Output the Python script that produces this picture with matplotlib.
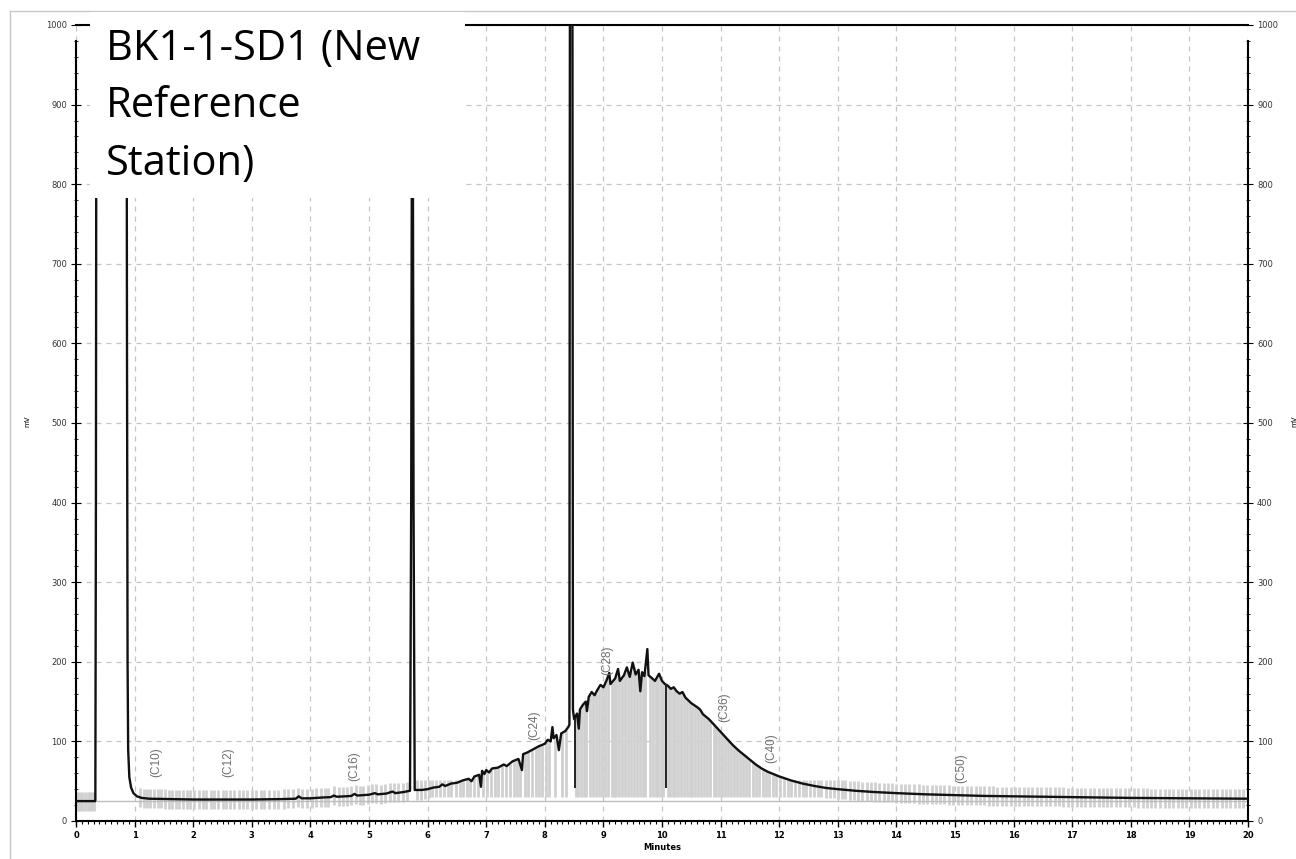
import matplotlib
matplotlib.use('Agg')
import matplotlib.pyplot as plt
from matplotlib.patches import Rectangle
from matplotlib.lines import Line2D
from matplotlib.ticker import MultipleLocator
import numpy as np

# chromatogram trace (minutes, mV); off-scale peaks set above 1000
trace_t = [0.00, 0.33, 0.34, 0.35, 0.86, 0.87, 0.88, 0.89, 0.91, 0.94, 0.98, 1.04, 1.12, 1.25,
           1.6, 2.0, 2.5, 3.0, 3.5, 3.75, 3.8, 3.85, 4.0, 4.2, 4.35, 4.4, 4.45, 4.6, 4.7, 4.75,
           4.8, 5.0, 5.1, 5.15, 5.3, 5.4, 5.45, 5.6, 5.7, 5.72, 5.74, 5.76, 5.78, 5.9, 6.0, 6.1,
           6.2, 6.25, 6.3, 6.4, 6.5, 6.6, 6.7, 6.75, 6.8, 6.88, 6.91, 6.93, 6.97, 7.0, 7.05, 7.1,
           7.2, 7.3, 7.35, 7.45, 7.55, 7.61, 7.63, 7.7, 7.8, 7.9, 8.0, 8.05, 8.1, 8.13, 8.15,
           8.2, 8.24, 8.28, 8.35, 8.4, 8.42, 8.43, 8.47, 8.48, 8.5, 8.55, 8.58, 8.6, 8.65, 8.7,
           8.72, 8.75, 8.8, 8.85, 8.9, 8.95, 9.0, 9.05, 9.1, 9.12, 9.2, 9.25, 9.28, 9.35, 9.4,
           9.45, 9.5, 9.55, 9.6, 9.63, 9.66, 9.7, 9.75, 9.77, 9.82, 9.88, 9.95, 10.0, 10.05,
           10.1, 10.15, 10.2, 10.25, 10.3, 10.35, 10.4, 10.5, 10.6, 10.65, 10.7, 10.8, 10.9,
           11.0, 11.1, 11.2, 11.3, 11.4, 11.5, 11.6, 11.7, 11.8, 11.9, 12.0, 12.2, 12.4, 12.6,
           12.8, 13.0, 13.3, 13.6, 14.0, 14.5, 15.0, 15.5, 16.0, 17.0, 18.0, 19.0, 20.0]
trace_mv = [25, 25, 400, 1200, 1200, 600, 200, 90, 55, 42, 35, 31, 29, 28,
            27.5, 27, 27, 27, 27.5, 28, 31, 28.5, 28.5, 29.5, 30, 32, 30.5, 31, 31.5, 34,
            32, 33, 35, 33.5, 34.5, 37, 35, 36.5, 38, 400, 1200, 400, 39, 39, 40, 42,
            43, 46, 44, 47, 48, 51, 53, 50, 56, 58, 43, 63, 59, 64, 61, 66,
            67, 71, 69, 75, 78, 64, 84, 86, 90, 94, 97, 102, 100, 118, 104,
            108, 89, 110, 113, 118, 121, 1200, 1200, 140, 128, 135, 116, 140, 146, 150,
            138, 156, 162, 158, 165, 171, 168, 176, 186, 172, 179, 191, 176, 183, 193,
            181, 199, 184, 190, 163, 187, 182, 216, 183, 180, 176, 185, 176, 172,
            170, 166, 168, 163, 160, 162, 155, 148, 143, 140, 134, 128, 120,
            112, 104, 96, 89, 83, 77, 71, 66, 62, 59, 56, 51, 47, 44,
            41.5, 40, 38, 36.5, 35, 33.5, 32.5, 31.5, 31, 30, 29, 28.5, 28]

# integration drop lines (minutes, lower end in mV)
drop_t = [8.51, 10.06]
drop_bottom = [41, 41]

# integration slices (grey bars), minutes
gray_t = [0.03, 0.07, 0.11, 0.16, 0.2, 0.24, 0.28, 0.31,
          1.1, 1.16, 1.22, 1.27, 1.33, 1.4, 1.45, 1.52, 1.58, 1.63, 1.7, 1.76, 1.83, 1.9, 1.95,
          2.02, 2.1, 2.16, 2.22, 2.3, 2.35, 2.42, 2.5, 2.56, 2.63, 2.7, 2.78, 2.85, 2.92, 3.0,
          3.08, 3.15, 3.2, 3.3, 3.38, 3.45, 3.55, 3.62, 3.7, 3.78, 3.85, 3.95, 4.02, 4.1, 4.18,
          4.25, 4.3, 4.4, 4.48, 4.55, 4.62, 4.7, 4.78, 4.85, 4.9, 4.98, 5.05, 5.12, 5.2, 5.28,
          5.35, 5.42, 5.5, 5.58, 5.65,
          5.82, 5.88, 5.95, 6.02, 6.08, 6.15, 6.22, 6.28, 6.35, 6.4, 6.48, 6.55, 6.6, 6.67, 6.73,
          6.8, 6.86, 6.95, 7.02, 7.08, 7.15, 7.2, 7.27, 7.33, 7.4, 7.47, 7.52, 7.58, 7.66, 7.72,
          7.78, 7.85, 7.9, 7.96, 8.02, 8.08, 8.17, 8.3, 8.36, 8.53, 8.56, 8.62, 8.67, 8.7, 8.77,
          8.82, 8.87, 8.92, 8.98, 9.03, 9.08, 9.14, 9.18, 9.22, 9.27, 9.32, 9.37, 9.42, 9.47,
          9.52, 9.57, 9.62, 9.68, 9.71, 9.8, 9.85, 9.9, 9.93, 9.98, 10.02, 10.1, 10.13, 10.18,
          10.22, 10.28, 10.33, 10.38, 10.43, 10.47, 10.52, 10.57, 10.62, 10.66, 10.72, 10.77,
          10.82, 10.88, 10.92, 10.97, 11.02, 11.08, 11.12, 11.18, 11.23, 11.28, 11.33, 11.38,
          11.43, 11.48, 11.55, 11.6, 11.65, 11.72, 11.78, 11.83, 11.9, 11.95, 12.02, 12.08,
          12.15, 12.2, 12.27, 12.33, 12.4, 12.46, 12.52, 12.6, 12.66, 12.72, 12.8, 12.87, 12.93,
          13.0, 13.07, 13.13, 13.2, 13.28, 13.35, 13.42, 13.5, 13.57, 13.63, 13.7, 13.78, 13.85,
          13.92, 14.0, 14.08, 14.15, 14.22, 14.3, 14.38, 14.45, 14.52, 14.6, 14.67, 14.75,
          14.82, 14.9, 14.97, 15.05, 15.12, 15.2, 15.27, 15.35, 15.42, 15.5, 15.58, 15.65,
          15.72, 15.8, 15.87, 15.95, 16.02, 16.1, 16.17, 16.25, 16.32, 16.4, 16.47, 16.55,
          16.62, 16.7, 16.78, 16.85, 16.92, 17.0, 17.08, 17.15, 17.22, 17.3, 17.37, 17.45,
          17.52, 17.6, 17.67, 17.75, 17.82, 17.9, 17.97, 18.05, 18.12, 18.2, 18.27, 18.35,
          18.42, 18.5, 18.58, 18.65, 18.72, 18.8, 18.87, 18.95, 19.02, 19.1, 19.17, 19.25,
          19.32, 19.4, 19.47, 19.55, 19.62, 19.7, 19.77, 19.85, 19.92]

# carbon-number markers
peak_names = ['(C10)', '(C12)', '(C16)', '(C24)', '(C28)', '(C36)', '(C40)', '(C50)']
peak_t = [1.37, 2.6, 4.74, 7.82, 9.06, 11.06, 11.86, 15.1]
peak_mv = [55, 55, 50, 102, 183, 125, 73, 48]

title_text = 'BK1-1-SD1 (New\nReference\nStation)'

W, H = 1296, 859
fig = plt.figure(figsize=(W / 100, H / 100), dpi=100)
ax = fig.add_axes([76 / W, 1 - 821 / H, 1172 / W, 796 / H])

# grey slices: short bars around the flat baseline, full-height slices under the hump
gt = np.array(gray_t)
gc = np.interp(gt, trace_t, trace_mv)
bar_lo = np.minimum(gc - 12, 30)
bar_hi = np.maximum(gc, np.minimum(gc + 12, 52))
ax.vlines(gt, bar_lo, bar_hi, color='#d0d0d0', lw=2.0, zorder=2)
ax.plot([0.35, 20], [25, 25], color='#bdbdbd', lw=1, zorder=2)

ax.plot(trace_t, trace_mv, color='#111111', lw=1.7, zorder=4)
dc = np.interp(drop_t, trace_t, trace_mv)
ax.vlines(drop_t, drop_bottom, dc, color='#222222', lw=1.4, zorder=4)

for name, t, mv in zip(peak_names, peak_t, peak_mv):
    ax.text(t, mv, name, rotation=90, ha='center', va='bottom', fontsize=8.5,
            family='Liberation Sans', color='#6e6e6e', zorder=5)

ax.set_xlim(0, 20)
ax.set_ylim(0, 1000)
ax.xaxis.set_major_locator(MultipleLocator(1))
ax.xaxis.set_minor_locator(MultipleLocator(0.1))
ax.yaxis.set_major_locator(MultipleLocator(100))
ax.yaxis.set_minor_locator(MultipleLocator(20))
ax.grid(which='major', ls=(0, (4, 4)), color='#c4c4c4', lw=0.9, zorder=0)
ax.set_axisbelow(True)

ax.tick_params(axis='x', which='major', direction='out', length=4, width=1,
               labelsize=6, pad=3)
ax.tick_params(axis='x', which='minor', direction='out', length=2, width=0.8)
ax.tick_params(axis='y', which='major', direction='inout', length=7, width=0.8,
               labelsize=6, labelcolor='#333333', right=True, labelright=True, pad=3)
ax.tick_params(axis='y', which='minor', direction='inout', length=3, width=0.6, right=True)
for lab in ax.get_xticklabels():
    lab.set_fontweight('bold')

for s in ['left', 'right']:
    ax.spines[s].set_linewidth(1.5)
    ax.spines[s].set_bounds(0, 980)
ax.spines['bottom'].set_linewidth(1.5)
ax.spines['top'].set_linewidth(1.5)

ax.set_xlabel('Minutes', fontsize=6, fontweight='bold', labelpad=2)
fig.text(27 / W, 1 - 421 / H, 'mV', rotation=90, fontsize=5, ha='center', va='center')
fig.text(1291 / W, 1 - 421 / H, 'mV', rotation=90, fontsize=5, ha='left', va='center')

# outer frame of the screenshot
fig.add_artist(Line2D([10 / W, 10 / W], [0, 1 - 11 / H], color='#c8c8c8', lw=1))
fig.add_artist(Line2D([10 / W, 1], [1 - 11 / H, 1 - 11 / H], color='#c8c8c8', lw=1))

# white label box over the plot
fig.add_artist(Rectangle((90 / W, 1 - 198 / H), 375 / W, 186 / H, transform=fig.transFigure,
                         facecolor='white', edgecolor='none', zorder=5))
fig.text(106 / W, 1 - 28 / H, title_text, fontsize=30, family='Open Sans', ha='left',
         va='top', linespacing=1.48, zorder=6)

plt.savefig('out.png', dpi=100)
